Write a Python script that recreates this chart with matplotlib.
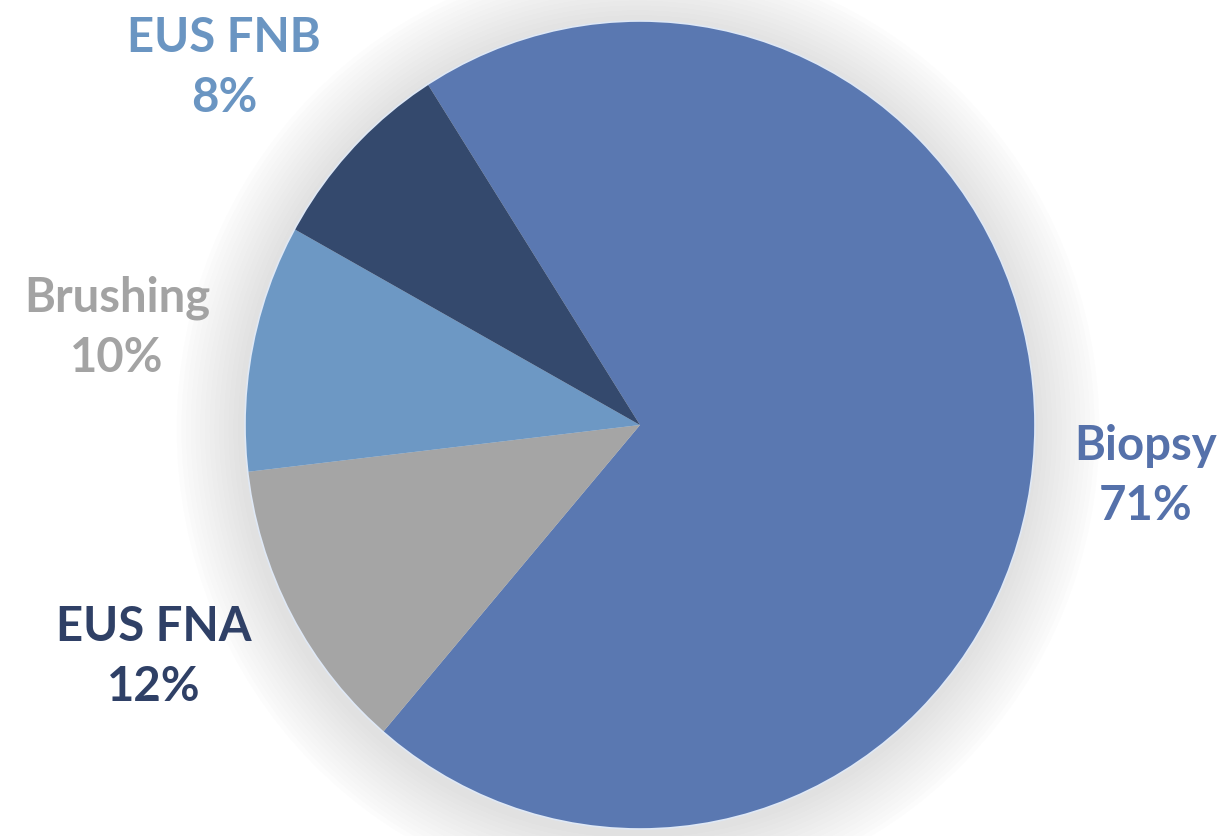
import matplotlib
matplotlib.use("Agg")
import matplotlib.pyplot as plt
from matplotlib.patches import Ellipse

# Sampling method shares
labels = ["Biopsy", "EUS FNA", "Brushing", "EUS FNB"]
shares = [71, 12, 10, 8]

slice_colors = ["#5A78B1", "#A5A5A5", "#6D98C4", "#34496D"]
label_colors = ["#5571AA", "#2F4066", "#A3A3A3", "#6A95C2"]
# label block centres in figure pixels (x from left, y from top)
label_pos = [(1146, 476), (154, 657), (117, 328), (224, 68)]

W, H = 1226, 837
fig = plt.figure(figsize=(W / 100, H / 100), dpi=100)
fig.patch.set_facecolor("white")

cx, cy, rx, ry = 640, 426, 395, 404
ax = fig.add_axes([(cx - rx) / W, (H - cy - ry) / H, 2 * rx / W, 2 * ry / H])

# soft drop shadow behind the pie
for k in range(14):
    r = 1.0 + 0.012 * (k + 1)
    ax.add_patch(Ellipse((-0.005, -0.01), 2 * r, 2 * r, color="#7a7a7a",
                         alpha=0.014, lw=0, clip_on=False, zorder=0))

ax.pie(shares, colors=slice_colors, startangle=122.5, counterclock=False,
       radius=1.0, wedgeprops=dict(edgecolor="none", linewidth=0, zorder=2))
ax.set_aspect("auto")
ax.set_xlim(-1, 1)
ax.set_ylim(-1, 1)
ax.axis("off")

# thin bright rim
ax.add_patch(Ellipse((0, 0), 2.0, 2.0, fill=False, edgecolor="#dfe8f5",
                     lw=1.2, zorder=3, clip_on=False))

for lab, val, col, (px, py) in zip(labels, shares, label_colors, label_pos):
    fig.text(px / W, 1 - py / H, f"{lab}\n{val}%", ha="center", va="center",
             fontsize=34, fontweight="bold", family="Lato", color=col,
             linespacing=1.45)

fig.savefig("out.png", dpi=100, facecolor="white")
